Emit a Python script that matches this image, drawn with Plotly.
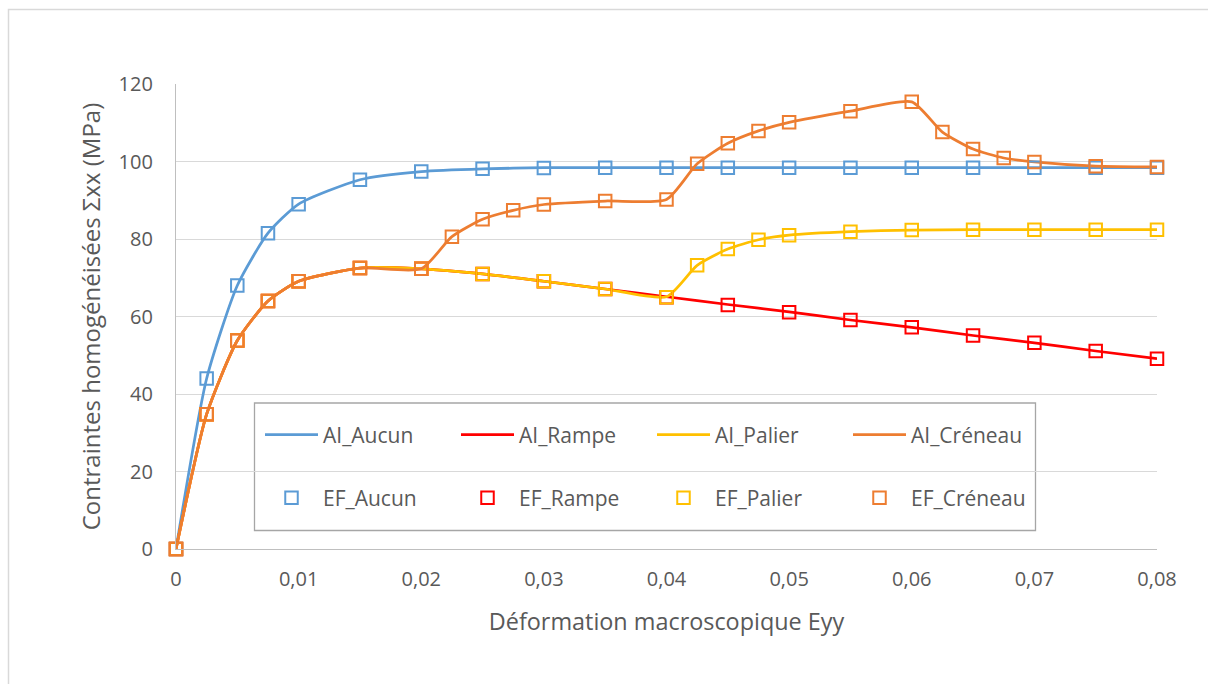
import plotly.graph_objects as go

# Strain values (Eyy)
grid = [0, 0.0025, 0.005, 0.0075, 0.01, 0.015, 0.02, 0.025, 0.03, 0.035,
        0.04, 0.045, 0.05, 0.055, 0.06, 0.065, 0.07, 0.075, 0.08]
palier_x = [0, 0.0025, 0.005, 0.0075, 0.01, 0.015, 0.02, 0.025, 0.03, 0.035,
            0.04, 0.0425, 0.045, 0.0475, 0.05, 0.055, 0.06, 0.065, 0.07, 0.075, 0.08]
creneau_x = [0, 0.0025, 0.005, 0.0075, 0.01, 0.015, 0.02, 0.0225, 0.025, 0.0275,
             0.03, 0.035, 0.04, 0.0425, 0.045, 0.0475, 0.05, 0.055, 0.06, 0.0625,
             0.065, 0.0675, 0.07, 0.075, 0.08]

# Analytical (AI) homogenised stress, MPa
ai_aucun = [0, 44.0, 68.0, 81.5, 89.0, 95.3, 97.4, 98.1, 98.4, 98.4,
            98.4, 98.4, 98.4, 98.4, 98.4, 98.4, 98.4, 98.4, 98.4]
ai_rampe = [0, 34.8, 53.8, 64.0, 69.1, 72.5, 72.3, 71.0, 69.1, 67.1,
            65.1, 63.1, 61.2, 59.1, 57.2, 55.1, 53.2, 51.1, 49.1]
ai_palier = [0, 34.8, 53.8, 64.0, 69.1, 72.5, 72.3, 71.0, 69.1, 67.1,
             65.1, 73.2, 77.4, 79.8, 81.0, 81.9, 82.3, 82.4, 82.4, 82.4, 82.4]
ai_creneau = [0, 34.8, 53.8, 64.0, 69.1, 72.5, 72.3, 80.6, 85.1, 87.4,
              88.9, 89.8, 90.2, 99.4, 104.7, 107.9, 110.1, 113.0, 115.4, 107.6,
              103.2, 100.9, 99.9, 98.8, 98.6]

# Finite-element (EF) homogenised stress, MPa
ef_aucun = [0, 44.0, 68.0, 81.5, 89.0, 95.3, 97.4, 98.1, 98.3, 98.4,
            98.4, 98.4, 98.4, 98.4, 98.4, 98.4, 98.4, 98.4, 98.4]
ef_rampe = [0, 34.8, 53.8, 64.0, 69.1, 72.5, 72.3, 71.0, 69.1, 67.1,
            65.0, 63.0, 61.1, 59.1, 57.2, 55.1, 53.2, 51.1, 49.1]
ef_palier = [0, 34.8, 53.8, 64.0, 69.1, 72.5, 72.3, 71.0, 69.1, 67.1,
             65.0, 73.2, 77.4, 79.8, 81.0, 81.9, 82.3, 82.4, 82.4, 82.4, 82.4]
ef_creneau = [0, 34.8, 53.8, 64.0, 69.1, 72.5, 72.3, 80.6, 85.1, 87.4,
              88.9, 89.8, 90.2, 99.4, 104.7, 107.9, 110.1, 113.0, 115.4, 107.6,
              103.2, 100.9, 99.9, 98.8, 98.6]

names = ["Aucun", "Rampe", "Palier", "Créneau"]
colors = ["#5B9BD5", "#FF0000", "#FFC000", "#ED7D31"]
ai_series = [(grid, ai_aucun), (grid, ai_rampe), (palier_x, ai_palier), (creneau_x, ai_creneau)]
ef_series = [(grid, ef_aucun), (grid, ef_rampe), (palier_x, ef_palier), (creneau_x, ef_creneau)]

FONT = "Open Sans"
TXT = "#595959"

fig = go.Figure()

for name, col, (xs, ys) in zip(names, colors, ai_series):
    fig.add_trace(go.Scatter(
        x=xs, y=ys, mode="lines", name="AI_" + name,
        line=dict(color=col, width=2.75, shape="spline", smoothing=0.6),
        cliponaxis=False, legend="legend",
    ))

for name, col, (xs, ys) in zip(names, colors, ef_series):
    fig.add_trace(go.Scatter(
        x=xs, y=ys, mode="markers", name="EF_" + name,
        marker=dict(symbol="square-open", size=12.5, color=col, line=dict(color=col, width=2)),
        cliponaxis=False, legend="legend2",
    ))

L, R, T, B = 176, 51, 84, 135
W, H = 1208, 684
pw, ph = W - L - R, H - T - B


def px(xp):
    return (xp - L) / pw


def py(yp):
    return (H - B - yp) / ph


legend_common = dict(
    orientation="h", xanchor="left", yanchor="middle",
    bgcolor="rgba(0,0,0,0)", borderwidth=0,
    font=dict(family=FONT, size=21, color=TXT),
    entrywidth=128, entrywidthmode="pixels", itemwidth=53,
    traceorder="normal", itemclick=False,
)

fig.update_layout(
    width=W, height=H,
    margin=dict(l=L, r=R, t=T, b=B, pad=0),
    paper_bgcolor="white", plot_bgcolor="white",
    separators=", ",
    font=dict(family=FONT, color=TXT),
    showlegend=True,
    legend=dict(x=px(260), y=py(435), **legend_common),
    legend2=dict(x=px(260), y=py(498), **legend_common),
    xaxis=dict(
        range=[0, 0.08], tick0=0, dtick=0.01, showgrid=False, zeroline=False,
        showline=True, linecolor="#BFBFBF", linewidth=1.3, ticks="",
        tickfont=dict(family=FONT, size=20, color=TXT), ticklabelstandoff=12,
        title=dict(text="Déformation macroscopique Eyy",
                   font=dict(family=FONT, size=23.4, color=TXT), standoff=22),
    ),
    yaxis=dict(
        range=[0, 120], tick0=0, dtick=20, showgrid=True, gridcolor="#D9D9D9",
        gridwidth=1.3, zeroline=False, showline=True, linecolor="#BFBFBF",
        linewidth=1.3, ticks="",
        tickfont=dict(family=FONT, size=20, color=TXT), ticklabelstandoff=18,
        title=dict(text="Contraintes homogénéisées Σxx (MPa)",
                   font=dict(family=FONT, size=24, color=TXT), standoff=11),
    ),
    shapes=[
        # outer chart frame
        dict(type="rect", xref="paper", yref="paper",
             x0=px(8.5), x1=px(1230), y0=py(700), y1=py(9.5),
             line=dict(color="#D9D9D9", width=1.5), fillcolor="rgba(0,0,0,0)",
             layer="below"),
        # legend box
        dict(type="rect", xref="paper", yref="paper",
             x0=px(254.5), x1=px(1035.5), y0=py(530.5), y1=py(403),
             line=dict(color="#A6A6A6", width=1.3), fillcolor="white",
             layer="between"),
    ],
)

fig.write_html("out.html")
